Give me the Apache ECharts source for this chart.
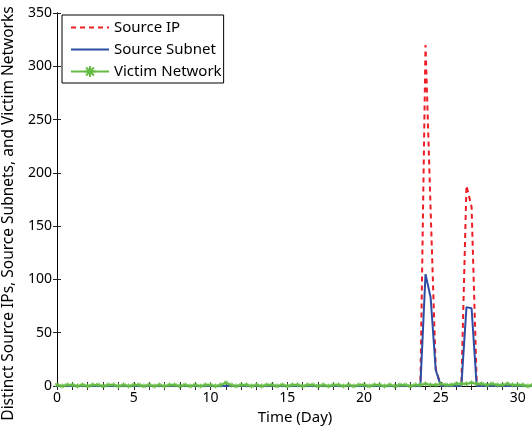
<!DOCTYPE html>
<html>
<head>
<meta charset="utf-8">
<script src="https://cdn.jsdelivr.net/npm/echarts@6/dist/echarts.min.js"></script>
<style>
html, body { margin: 0; padding: 0; background: #fff; }
#chart { width: 532px; height: 426px; }
</style>
</head>
<body>
<div id="chart"></div>
<script>
// 8-hour bins, one value per bin (94 bins = 31 days)
const sourceIP = [
    0, 0, 0, 0, 0, 0, 0, 0, 0, 0,
    0, 0, 0, 0, 0, 0, 0, 0, 0, 0,
    0, 0, 0, 0, 0, 0, 0, 0, 0, 0,
    0, 0, 0, 0, 0, 0, 0, 0, 0, 0,
    0, 0, 0, 0, 0, 0, 0, 0, 0, 0,
    0, 0, 0, 0, 0, 0, 0, 0, 0, 0,
    0, 0, 0, 0, 0, 0, 0, 0, 0, 0,
    0, 0, 320, 165, 16, 0, 0, 0, 0, 0,
    188, 168, 3, 0, 0, 0, 0, 0, 0, 0,
    0, 0, 0, 0,
]
const sourceSubnet = [
    0, 0, 0, 0, 0, 0, 0, 0, 0, 0,
    0, 0, 0, 0, 0, 0, 0, 0, 0, 0,
    0, 0, 0, 0, 0, 0, 0, 0, 0, 0,
    0, 0, 0, 0, 0, 0, 0, 0, 0, 0,
    0, 0, 0, 0, 0, 0, 0, 0, 0, 0,
    0, 0, 0, 0, 0, 0, 0, 0, 0, 0,
    0, 0, 0, 0, 0, 0, 0, 0, 0, 0,
    0, 0, 105, 83, 15, 0, 0, 0, 0, 0,
    74, 73, 0, 0, 0, 0, 0, 0, 0, 0,
    0, 0, 0, 0,
]
const victimNetwork = [
    1, 0, 1, 1, 0, 1, 0, 1, 1, 0,
    1, 1, 0, 1, 0, 1, 1, 0, 1, 0,
    1, 0, 1, 1, 0, 1, 0, 1, 0, 1,
    1, 0, 1, 3, 1, 0, 1, 1, 0, 1,
    0, 1, 1, 0, 1, 0, 1, 1, 0, 1,
    1, 0, 1, 0, 1, 1, 0, 1, 0, 1,
    1, 0, 1, 1, 0, 1, 0, 1, 1, 0,
    1, 1, 2, 1, 1, 2, 1, 1, 2, 2,
    2, 3, 2, 2, 1, 2, 1, 1, 2, 1,
    1, 1, 0, 1,
]
const binsPerDay = 3
const days = victimNetwork.map((v, i) => i / binsPerDay)

const font = 'Noto Sans'
const pair = (arr) => arr.map((v, i) => [days[i], v])
const noMark = { color: 'rgba(0,0,0,0)', borderWidth: 0 }

const chart = echarts.init(document.getElementById('chart'), null, { renderer: 'canvas' })
const xBase = {
    type: 'value',
    min: 0,
    max: 31,
    interval: 1,
    splitLine: { show: false },
    axisLine: { show: true, lineStyle: { color: '#000', width: 1 } },
    axisTick: { show: true, inside: true, length: 4, lineStyle: { color: '#222' } },
}
const yBase = {
    type: 'value',
    min: 0,
    max: 350,
    interval: 50,
    splitLine: { show: false },
    axisLine: { show: true, lineStyle: { color: '#000', width: 1 } },
    axisTick: { show: true, inside: true, length: 4, lineStyle: { color: '#222' } },
}
chart.setOption({
    animation: false,
    textStyle: { fontFamily: font },
    grid: { left: 57, top: 13, width: 476, height: 373, containLabel: false, outerBoundsMode: 'none' },
    legend: {
        orient: 'vertical',
        left: 62,
        top: 15,
        padding: [5, 2, 4, 8],
        itemWidth: 38,
        itemHeight: 14,
        itemGap: 7,
        backgroundColor: '#fff',
        borderColor: '#000',
        borderWidth: 1,
        borderRadius: 0,
        textStyle: { fontFamily: font, fontSize: 15, color: '#000' },
        data: [
            { name: 'Source IP', itemStyle: noMark },
            { name: 'Source Subnet', itemStyle: noMark },
            'Victim Network',
        ],
    },
    xAxis: [
        Object.assign({}, xBase, {
            position: 'bottom',
            name: 'Time (Day)',
            nameLocation: 'middle',
            nameGap: 14,
            nameTextStyle: { fontFamily: font, fontSize: 15, color: '#000' },
            axisLabel: {
                fontFamily: font,
                fontSize: 14,
                color: '#000',
                margin: 5,
                formatter: (v) => (v % 5 === 0 ? String(v) : ''),
            },
        }),
        Object.assign({}, xBase, { position: 'top', axisLabel: { show: false } }),
    ],
    yAxis: [
        Object.assign({}, yBase, {
            position: 'left',
            name: 'Distinct Source IPs, Source Subnets, and Victim Networks',
            nameLocation: 'middle',
            nameGap: 32,
            nameTextStyle: { fontFamily: font, fontSize: 15.5, color: '#000', padding: [0, 28, 0, 0] },
            axisLabel: { fontFamily: font, fontSize: 14, color: '#000', margin: 5 },
        }),
        Object.assign({}, yBase, { position: 'right', axisLabel: { show: false } }),
    ],
    series: [
        {
            name: 'Source IP',
            type: 'line',
            data: pair(sourceIP),
            showSymbol: false,
            symbol: 'none',
            itemStyle: { color: '#ee1c25' },
            lineStyle: { color: '#ee1c25', width: 2, type: [5, 4] },
        },
        {
            name: 'Source Subnet',
            type: 'line',
            data: pair(sourceSubnet),
            showSymbol: false,
            symbol: 'none',
            itemStyle: { color: '#2b4da3' },
            lineStyle: { color: '#2b4da3', width: 2 },
        },
        {
            name: 'Victim Network',
            type: 'line',
            data: pair(victimNetwork),
            symbol: 'path://M0,5L10,5M5,0L5,10M1.5,1.5L8.5,8.5M8.5,1.5L1.5,8.5',
            symbolSize: 5,
            itemStyle: { color: '#66bb44', borderColor: '#66bb44', borderWidth: 1 },
            lineStyle: { color: '#66bb44', width: 2 },
        },
    ],
})
</script>
</body>
</html>
